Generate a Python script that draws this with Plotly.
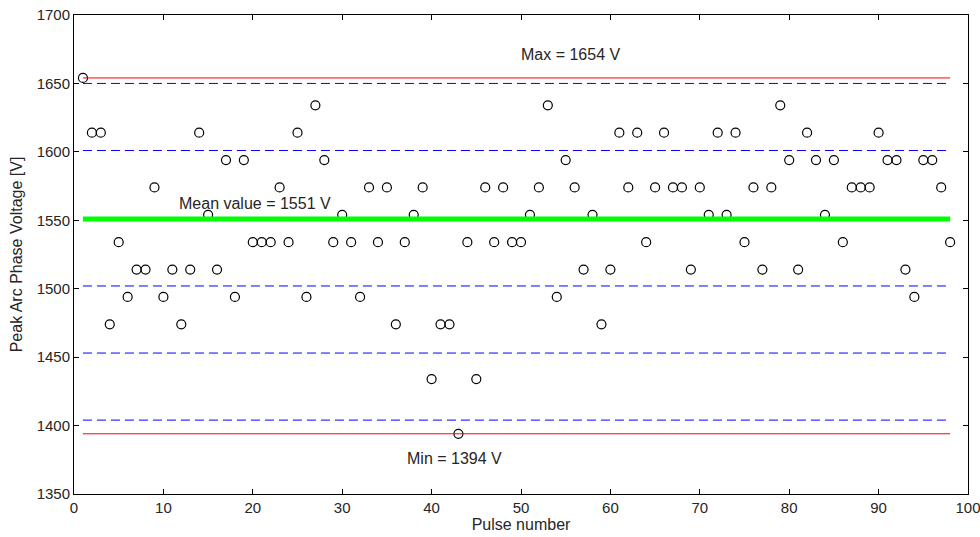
import plotly.graph_objects as go

pulse = list(range(1, 99))
voltage = [
    1654, 1614, 1614, 1474, 1534, 1494, 1514, 1514, 1574, 1494,
    1514, 1474, 1514, 1614, 1554, 1514, 1594, 1494, 1594, 1534,
    1534, 1534, 1574, 1534, 1614, 1494, 1634, 1594, 1534, 1554,
    1534, 1494, 1574, 1534, 1574, 1474, 1534, 1554, 1574, 1434,
    1474, 1474, 1394, 1534, 1434, 1574, 1534, 1574, 1534, 1534,
    1554, 1574, 1634, 1494, 1594, 1574, 1514, 1554, 1474, 1514,
    1614, 1574, 1614, 1534, 1574, 1614, 1574, 1574, 1514, 1574,
    1554, 1614, 1554, 1614, 1534, 1574, 1514, 1574, 1634, 1594,
    1514, 1614, 1594, 1554, 1594, 1534, 1574, 1574, 1574, 1614,
    1594, 1594, 1514, 1494, 1594, 1594, 1574, 1534,
]
max_v = 1654
min_v = 1394
mean_v = 1551
sigma_levels = [1650, 1601, 1502, 1453, 1404]
line_x = [1, 98]

x_ticks = [0, 10, 20, 30, 40, 50, 60, 70, 80, 90, 100]
y_ticks = [1350, 1400, 1450, 1500, 1550, 1600, 1650, 1700]

FONT = "Liberation Sans"
TXT = "#262626"
fig = go.Figure()

fig.add_trace(go.Scatter(
    x=pulse, y=voltage, mode="markers",
    marker=dict(symbol="circle-open", size=9, color="black", line=dict(width=1.2, color="black")),
    showlegend=False, hoverinfo="x+y"))

for lvl in sigma_levels:
    fig.add_trace(go.Scatter(x=line_x, y=[lvl, lvl], mode="lines",
                             line=dict(color="#0000ff", width=1, dash="9px,5px"),
                             showlegend=False, hoverinfo="skip"))

for lvl in [max_v, min_v]:
    fig.add_trace(go.Scatter(x=line_x, y=[lvl, lvl], mode="lines",
                             line=dict(color="#ff0000", width=1),
                             showlegend=False, hoverinfo="skip"))

fig.add_trace(go.Scatter(x=line_x, y=[mean_v, mean_v], mode="lines",
                         line=dict(color="#00ff00", width=5),
                         showlegend=False, hoverinfo="skip"))

annotations = [
    (50, 1671, f"Max = {max_v} V"),
    (11.8, 1562, f"Mean value = {mean_v} V"),
    (37.2, 1376, f"Min = {min_v} V"),
]
for ax_, ay_, txt in annotations:
    fig.add_annotation(x=ax_, y=ay_, text=txt, showarrow=False, xanchor="left", yanchor="middle",
                       xshift=-2, font=dict(family=FONT, size=16, color=TXT))

axis_common = dict(showline=True, linecolor="black", linewidth=1, mirror="ticks", automargin=False,
                   ticks="inside", ticklen=5, tickcolor="black", showgrid=False, zeroline=False,
                   ticklabeloverflow="allow",
                   tickfont=dict(family=FONT, size=15, color=TXT))

fig.update_xaxes(range=[0, 100], tickvals=x_ticks, ticklabelstandoff=0,
                 title=dict(text="Pulse number", standoff=2,
                            font=dict(family=FONT, size=16, color=TXT)), **axis_common)
fig.update_yaxes(range=[1350, 1700], tickvals=y_ticks, ticklabelstandoff=0,
                 title=dict(text="Peak Arc Phase Voltage [V]", standoff=10,
                            font=dict(family=FONT, size=16, color=TXT)), **axis_common)

fig.update_layout(width=980, height=537, plot_bgcolor="white", paper_bgcolor="white",
                  margin=dict(l=74, r=12, t=15, b=43), font=dict(family=FONT))

fig.write_html("out.html", config={"displayModeBar": False},
               post_script="document.body.style.margin='0';document.body.style.overflow='hidden';")
